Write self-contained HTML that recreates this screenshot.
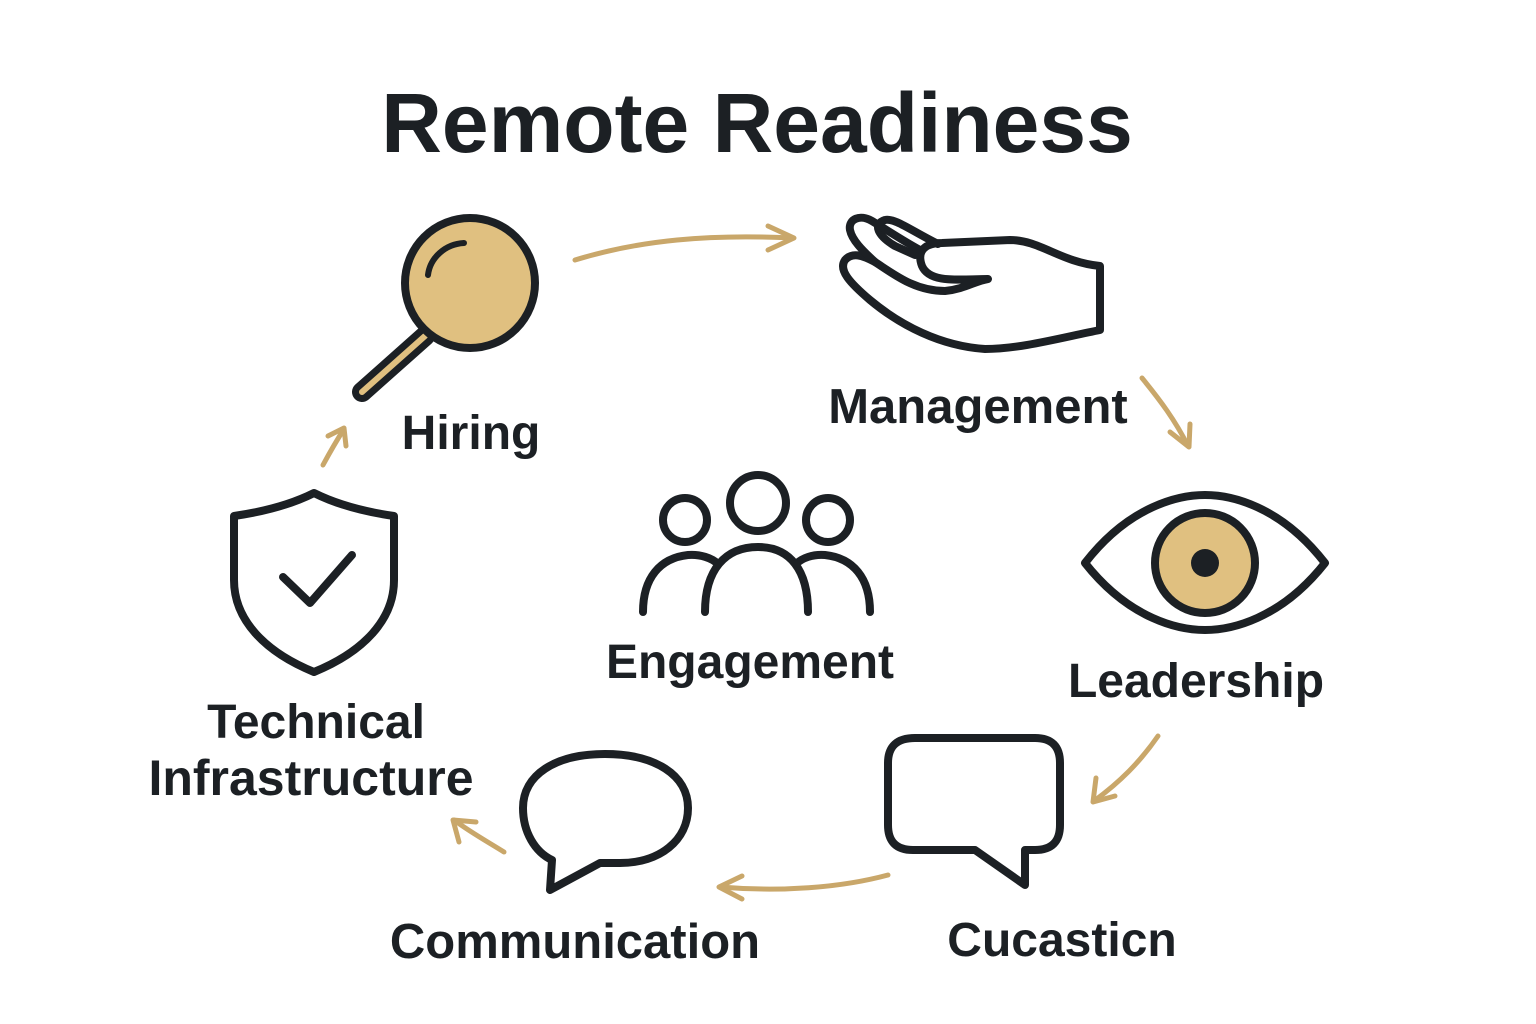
<!DOCTYPE html>
<html><head><meta charset="utf-8"><style>
html,body{margin:0;padding:0;background:#fff}
svg{display:block}
text{font-family:"Liberation Sans",sans-serif;font-weight:bold;fill:#1c2024}
</style></head><body>
<svg width="1536" height="1024" viewBox="0 0 1536 1024" xmlns="http://www.w3.org/2000/svg">
<rect width="1536" height="1024" fill="#fff"/>
<text x="757" y="152" font-size="84" text-anchor="middle">Remote Readiness</text>

<g fill="none" stroke="#c9a76a" stroke-width="5" stroke-linecap="round" stroke-linejoin="round">
<path d="M575,260 C640,240 710,234 792,238"/><path d="M768,226 L794,238 L768,250"/>
<path d="M1142,378 C1160,400 1175,420 1188,446"/><path d="M1170,432 L1189,447 L1190,424"/>
<path d="M1158,736 C1140,762 1120,782 1094,801"/><path d="M1096,778 L1093,802 L1115,796"/>
<path d="M888,875 C840,888 780,892 720,887"/><path d="M742,876 L719,887 L742,899"/>
<path d="M504,852 C488,842 470,832 454,820"/><path d="M459,842 L453,820 L476,822"/>
<path d="M323,465 C330,452 337,440 344,429"/><path d="M328,436 L344,428 L346,446"/>
</g>

<g fill="none" stroke="#1c2024" stroke-width="8" stroke-linecap="round" stroke-linejoin="round">
<path d="M362,392 L425,336" stroke-width="20"/>
<path d="M362,392 L425,336" stroke="#e0c080" stroke-width="6"/>
<circle cx="470" cy="283" r="65" fill="#e0c080"/>
<path d="M428,275 C430,258 445,244 464,243" stroke-width="6"/>
<path d="M1100,266 L1100,330 C1060,338 1020,349 985,349 C940,346 900,325 870,300 C850,283 838,270 845,260 C852,252 862,255 875,262 C895,275 915,291 945,291 C965,289 975,281 988,279 C960,279 930,284 922,266 C916,250 926,243 942,243 L1010,240 C1040,240 1060,262 1100,266 Z"/>
<path d="M938,244 C910,230 895,218 885,220 C872,224 878,236 895,246 L915,255"/>
<path d="M875,262 C862,250 852,240 850,230 C848,219 860,214 872,221 C890,232 905,242 920,250"/>
<path d="M1085,563 C1130,505 1180,495 1205,495 C1230,495 1280,505 1325,563 C1280,620 1230,630 1205,630 C1180,630 1130,620 1085,563 Z"/>
<circle cx="1205" cy="563" r="50" fill="#e0c080"/>
<circle cx="1205" cy="563" r="14" fill="#1c2024" stroke="none"/>
<path d="M915,738 L1035,738 Q1060,738 1060,763 L1060,825 Q1060,850 1035,850 L1025,850 L1025,885 L975,850 L913,850 Q888,850 888,825 L888,763 Q888,738 915,738 Z"/>
<path d="M605,754 C655,754 688,775 688,808 C688,840 660,863 620,863 L600,863 L550,890 L552,860 C535,852 523,832 523,808 C523,775 555,754 605,754 Z"/>
<path d="M314,493 C290,505 262,512 234,516 L234,580 C234,620 265,652 314,672 C363,652 394,620 394,580 L394,516 C366,512 338,505 314,493 Z"/>
<path d="M283,577 L310,603 L352,555"/>
<circle cx="758" cy="503" r="28"/>
<circle cx="685" cy="520" r="22"/>
<circle cx="828" cy="520" r="22"/>
<path d="M705,612 C705,570 725,547 758,547 C790,547 808,570 808,612"/>
<path d="M643,612 C643,578 660,558 688,555 C700,554 712,558 718,564"/>
<path d="M870,612 C870,578 853,558 825,555 C813,554 802,558 796,564"/>
</g>

<text x="471" y="449" font-size="48" text-anchor="middle">Hiring</text>
<text x="978" y="423" font-size="49" text-anchor="middle">Management</text>
<text x="1196" y="697" font-size="48" text-anchor="middle">Leadership</text>
<text x="750" y="678" font-size="48" text-anchor="middle">Engagement</text>
<text x="1062" y="956" font-size="48" text-anchor="middle">Cucasticn</text>
<text x="575" y="958" font-size="49" text-anchor="middle">Communication</text>
<text x="316" y="738" font-size="48" text-anchor="middle">Technical</text>
<text x="311" y="795" font-size="50" text-anchor="middle">Infrastructure</text>
</svg>
</body></html>
